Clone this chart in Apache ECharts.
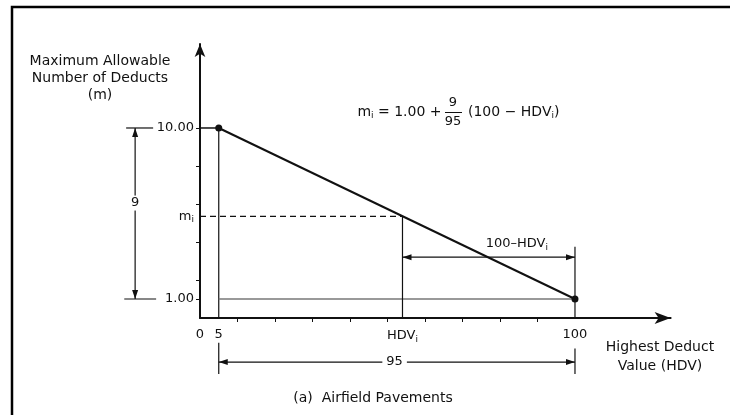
<!DOCTYPE html>
<html><head><meta charset="utf-8">
<script src="https://cdn.jsdelivr.net/npm/echarts@6/dist/echarts.min.js"></script>
<style>html,body{margin:0;padding:0;background:#fff}#c{width:730px;height:415px}</style>
</head><body><div id="c"></div>
<script>
// ---- data ----
const lineX = [5, 100];          // HDV at the two end points
const lineY = [10, 1];           // m at the two end points
const hdvI = 54;                 // example HDV_i
const mI = 5.35;                 // matching m_i
const xTickValues = [10, 20, 30, 40, 50, 60, 70, 80, 90];
const yTickValues = [1, 2, 4, 6, 8, 10];
const xLabelValues = [0, 5, hdvI, 100];
const yLabelValues = [1, mI, 10];
const dimTexts = ['9', '95', '100\u2013HDV'];

const FONT = 'DejaVu Sans';
const INK = '#111';
const sub = { fontSize: 9, padding: [7, 0, 0, 0], fontFamily: FONT, color: INK, fill: INK };
const vTxt = { fontFamily: FONT, fontSize: 13, color: INK, fill: INK };

// layout of construction lines (in data units)
const dim9X = -17.3, dim100Y = 3.2, dim95Y = -2.32;
const segs = [
  { a: [0, lineY[0]], b: [lineX[0], lineY[0]], w: 1.5 },
  { a: [lineX[0], lineY[0]], b: [lineX[0], 0] },
  { a: [lineX[0], -1.3], b: [lineX[0], -2.95] },
  { a: [lineX[1], 3.75], b: [lineX[1], 0] },
  { a: [lineX[1], -1.6], b: [lineX[1], -2.95] },
  { a: [lineX[0], lineY[1]], b: [lineX[1], lineY[1]], c: '#777', w: 1.6 },
  { a: [0, mI], b: [hdvI, mI], dash: [6, 4], w: 1.3 },
  { a: [hdvI, mI], b: [hdvI, 0] },
  { a: [-19.7, lineY[0]], b: [-12.5, lineY[0]] },
  { a: [-20.2, lineY[1]], b: [-11.7, lineY[1]] },
  { a: [dim9X, lineY[1]], b: [dim9X, lineY[0]], arrows: true },
  { a: [hdvI, dim100Y], b: [lineX[1], dim100Y], arrows: true },
  { a: [lineX[0], dim95Y], b: [lineX[1], dim95Y], arrows: true }
];
const notes = [
  { p: [dim9X, 6.05], t: dimTexts[0], bg: true },
  { p: [51.9, dim95Y], t: dimTexts[1], bg: true },
  { p: [84.5, 3.9], t: '{v|' + dimTexts[2] + '}{s|i}', bg: false }
];

function arrowHead(tip, from) {
  const dx = tip[0] - from[0], dy = tip[1] - from[1];
  const L = Math.hypot(dx, dy) || 1, ux = dx / L, uy = dy / L;
  const len = 9, hw = 3;
  const bx = tip[0] - ux * len, by = tip[1] - uy * len;
  return { type: 'polygon', shape: { points: [tip, [bx - uy * hw, by + ux * hw], [bx + uy * hw, by - ux * hw]] },
    style: { fill: INK } };
}

const chart = echarts.init(document.getElementById('c'), null, { renderer: 'canvas' });

const option = {
  animation: false,
  grid: { left: 200, top: 44, width: 470.6, height: 274 },
  xAxis: {
    type: 'value', min: 0, max: 125.5,
    splitLine: { show: false },
    axisLine: { show: true, onZero: false, symbol: ['none', 'arrow'], symbolSize: [9, 16],
      lineStyle: { color: INK, width: 2 } },
    axisTick: { show: true, customValues: xTickValues, length: 4, lineStyle: { color: INK } },
    axisLabel: {
      show: true, customValues: xLabelValues, margin: 10,
      fontFamily: FONT, fontSize: 13, color: INK,
      formatter: v => v === hdvI ? '{v|HDV}{s|i}' : String(v),
      rich: { v: vTxt, s: sub }
    }
  },
  yAxis: {
    type: 'value', min: 0, max: 14.42,
    splitLine: { show: false },
    axisLine: { show: true, onZero: false, symbol: ['none', 'arrow'], symbolSize: [8, 13],
      lineStyle: { color: INK, width: 2 } },
    axisTick: { show: true, customValues: yTickValues, length: 4, lineStyle: { color: INK } },
    axisLabel: {
      show: true, customValues: yLabelValues, margin: 6,
      fontFamily: FONT, fontSize: 13, color: INK,
      formatter: v => v === mI ? '{v|m}{s|i}' : v.toFixed(2),
      rich: { v: vTxt, s: sub }
    }
  },
  series: [
    {
      type: 'custom', clip: false, silent: true, z: 3,
      data: segs.map(s => [s.a[0], s.a[1], s.b[0], s.b[1]]),
      encode: { x: [0, 2], y: [1, 3] },
      renderItem: (params, api) => {
        const s = segs[params.dataIndex];
        const p1 = api.coord([api.value(0), api.value(1)]);
        const p2 = api.coord([api.value(2), api.value(3)]);
        const children = [{
          type: 'line', shape: { x1: p1[0], y1: p1[1], x2: p2[0], y2: p2[1] },
          style: { stroke: s.c || INK, lineWidth: s.w || 1.2, lineDash: s.dash || null }
        }];
        if (s.arrows) { children.push(arrowHead(p1, p2), arrowHead(p2, p1)); }
        return { type: 'group', children };
      }
    },
    {
      type: 'line', animation: false, z: 5,
      data: lineX.map((x, i) => [x, lineY[i]]),
      symbol: 'circle', symbolSize: 7,
      itemStyle: { color: INK },
      lineStyle: { color: INK, width: 2 }
    },
    {
      type: 'custom', clip: false, silent: true, z: 6,
      data: notes.map(n => n.p),
      renderItem: (params, api) => {
        const n = notes[params.dataIndex];
        const p = api.coord([api.value(0), api.value(1)]);
        return {
          type: 'text', x: p[0], y: p[1],
          style: {
            text: n.t, align: 'center', verticalAlign: 'middle',
            fontFamily: FONT, fontSize: 13, fill: INK,
            backgroundColor: n.bg ? '#fff' : null, padding: n.bg ? [1, 4] : 0,
            rich: { v: vTxt, s: sub }
          }
        };
      }
    }
  ],
  graphic: [
    { type: 'polyline', silent: true, shape: { points: [[12, 415], [12, 7], [730, 7]] },
      style: { stroke: '#000', lineWidth: 2.5, fill: null } },
    { type: 'text', silent: true, x: 100, y: 78,
      style: { text: 'Maximum Allowable\nNumber of Deducts\n(m)', align: 'center', verticalAlign: 'middle',
        fontFamily: FONT, fontSize: 14, lineHeight: 17, fill: INK } },
    { type: 'text', silent: true, x: 660, y: 357,
      style: { text: 'Highest Deduct\nValue (HDV)', align: 'center', verticalAlign: 'middle',
        fontFamily: FONT, fontSize: 14, lineHeight: 19, fill: INK } },
    { type: 'text', silent: true, x: 373, y: 398,
      style: { text: '(a)  Airfield Pavements', align: 'center', verticalAlign: 'middle',
        fontFamily: FONT, fontSize: 14, fill: INK } },
    // formula
    { type: 'text', silent: true, x: 446, y: 112,
      style: { text: '{v|m}{s|i}{v| = 1.00 + }', align: 'right', verticalAlign: 'middle',
        rich: { v: { fontFamily: FONT, fontSize: 14, fill: INK }, s: sub } } },
    { type: 'text', silent: true, x: 453, y: 103,
      style: { text: '9', align: 'center', verticalAlign: 'middle', fontFamily: FONT, fontSize: 13, fill: INK } },
    { type: 'line', silent: true, shape: { x1: 445, y1: 112.5, x2: 462, y2: 112.5 },
      style: { stroke: INK, lineWidth: 1 } },
    { type: 'text', silent: true, x: 453, y: 122,
      style: { text: '95', align: 'center', verticalAlign: 'middle', fontFamily: FONT, fontSize: 13, fill: INK } },
    { type: 'text', silent: true, x: 468, y: 112,
      style: { text: '{v|(100 \u2212 HDV}{s|i}{v|)}', align: 'left', verticalAlign: 'middle',
        rich: { v: { fontFamily: FONT, fontSize: 14, fill: INK }, s: sub } } }
  ]
};
chart.setOption(option);
</script>
</body></html>
